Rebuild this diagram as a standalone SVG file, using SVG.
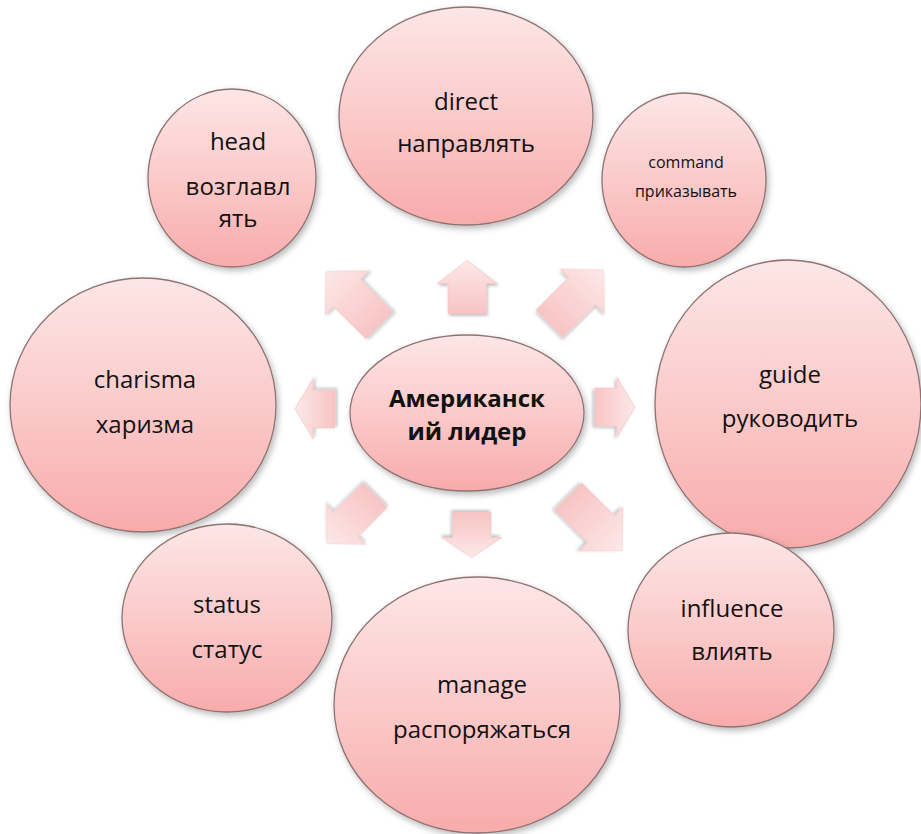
<svg xmlns="http://www.w3.org/2000/svg" width="921" height="834" viewBox="0 0 921 834">
<defs>
<linearGradient id="gCircle" x1="0" y1="0" x2="0" y2="1">
<stop offset="0" stop-color="#fde6e6"/>
<stop offset="0.5" stop-color="#fbcaca"/>
<stop offset="1" stop-color="#f8abab"/>
</linearGradient>
<linearGradient id="gArrow" x1="0" y1="0" x2="0" y2="1">
<stop offset="0" stop-color="#fde8e8"/>
<stop offset="1" stop-color="#f8c4c4"/>
</linearGradient>
<filter id="shadow" x="-20%" y="-20%" width="140%" height="140%">
<feDropShadow dx="2" dy="3" stdDeviation="3" flood-color="#000" flood-opacity="0.28"/>
</filter>
<filter id="ashadow" x="-30%" y="-30%" width="160%" height="160%">
<feDropShadow dx="1.5" dy="2" stdDeviation="1.5" flood-color="#000" flood-opacity="0.25"/>
</filter>
</defs>
<style>
.node ellipse{fill:url(#gCircle);stroke:#8e7373;stroke-width:1.3;filter:url(#shadow)}
.node text{font-family:"Open Sans","Noto Sans",sans-serif;font-size:24px;fill:#111;text-anchor:middle}
.node text.small{font-size:16px}
.node text.bold{font-weight:bold}
.arrow{fill:url(#gArrow);stroke:#f3c0c0;stroke-width:0.6;filter:url(#ashadow)}
</style>
<rect width="921" height="834" fill="#ffffff"/>

<g id="node-direct" class="node">
<ellipse cx="466" cy="116" rx="127" ry="109"/>
<text x="466" y="110">direct</text>
<text x="466" y="152">направлять</text>
</g>
<g id="node-head" class="node">
<ellipse cx="232" cy="178" rx="84" ry="89"/>
<text x="238" y="150">head</text>
<text x="238" y="195">возглавл</text>
<text x="238" y="227">ять</text>
</g>
<g id="node-command" class="node">
<ellipse cx="684" cy="180" rx="82" ry="87"/>
<text class="small" x="686" y="168">command</text>
<text class="small" x="686" y="197">приказывать</text>
</g>
<g id="node-charisma" class="node">
<ellipse cx="143" cy="405" rx="133" ry="127"/>
<text x="145" y="388">charisma</text>
<text x="145" y="433">харизма</text>
</g>
<g id="node-guide" class="node">
<ellipse cx="788" cy="404" rx="133" ry="144"/>
<text x="790" y="383">guide</text>
<text x="790" y="427">руководить</text>
</g>
<g id="node-status" class="node">
<ellipse cx="227" cy="618" rx="105" ry="94"/>
<text x="227" y="613">status</text>
<text x="227" y="658">статус</text>
</g>
<g id="node-manage" class="node">
<ellipse cx="477" cy="705" rx="143" ry="128"/>
<text x="482" y="693">manage</text>
<text x="482" y="738">распоряжаться</text>
</g>
<g id="node-influence" class="node">
<ellipse cx="731" cy="630" rx="103" ry="97"/>
<text x="732" y="617">influence</text>
<text x="732" y="660">влиять</text>
</g>
<g id="node-center" class="node">
<ellipse cx="467" cy="413" rx="117" ry="78"/>
<text class="bold" x="467" y="407">Американск</text>
<text class="bold" x="467" y="440">ий лидер</text>
</g>

<g id="connectors">
<path class="arrow" transform="translate(467,287)" d="M0,-26.5 L30,-3.5 L19,-3.5 L19,26.5 L-19,26.5 L-19,-3.5 L-30,-3.5Z"/>
<path class="arrow" transform="translate(576.4,296.6) rotate(45)" d="M0,-38 L31,-8 L19,-8 L19,38 L-19,38 L-19,-8 L-31,-8Z"/>
<path class="arrow" transform="translate(615,407) rotate(90)" d="M0,-20 L30,-2 L19,-2 L19,20 L-19,20 L-19,-2 L-30,-2Z"/>
<path class="arrow" transform="translate(595.4,523.4) rotate(135)" d="M0,-38 L31,-8 L19,-8 L19,38 L-19,38 L-19,-8 L-31,-8Z"/>
<path class="arrow" transform="translate(472,535) rotate(180)" d="M0,-22.5 L30,-2.5 L19,-2.5 L19,22.5 L-19,22.5 L-19,-2.5 L-30,-2.5Z"/>
<path class="arrow" transform="translate(351,519.5) rotate(225) scale(0.9)" d="M0,-38 L31,-8 L19,-8 L19,38 L-19,38 L-19,-8 L-31,-8Z"/>
<path class="arrow" transform="translate(315,409) rotate(270)" d="M0,-20 L30,-2 L19,-2 L19,20 L-19,20 L-19,-2 L-30,-2Z"/>
<path class="arrow" transform="translate(352.6,298.6) rotate(315)" d="M0,-38 L31,-8 L19,-8 L19,38 L-19,38 L-19,-8 L-31,-8Z"/>
</g>
</svg>
